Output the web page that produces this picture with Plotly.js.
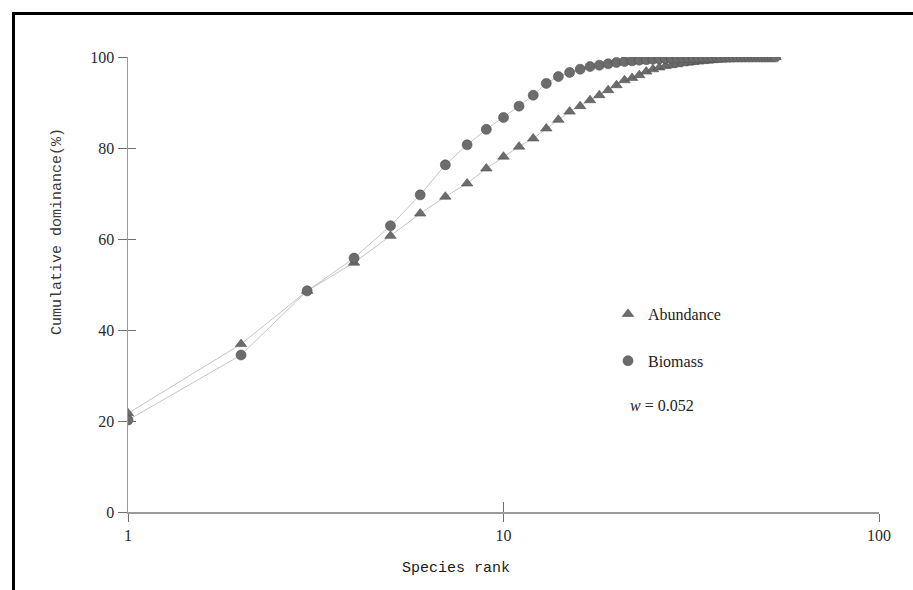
<!DOCTYPE html>
<html>
<head>
<meta charset="utf-8">
<script src="https://cdn.plot.ly/plotly-3.0.1.min.js"></script>
<style>html,body{margin:0;padding:0;background:#fff;}#chart{width:913px;height:590px;}</style>
</head>
<body>
<div id="chart"></div>
<script>
// Species rank (1..53)
const ranks = [1,2,3,4,5,6,7,8,9,10,11,12,13,14,15,16,17,18,19,20,21,22,23,24,25,26,27,28,29,30,31,32,33,34,35,36,37,38,39,40,41,42,43,44,45,46,47,48,49,50,51,52,53];
// Cumulative dominance (%) - abundance
const abundance = [21.7,36.9,48.6,54.8,60.7,65.6,69.3,72.2,75.5,78.1,80.3,82.1,84.3,86.2,88.0,89.2,90.5,91.6,92.7,93.8,94.9,95.4,96.0,96.8,97.3,97.7,98.0,98.2,98.4,98.6,98.75,98.9,99.0,99.1,99.2,99.3,99.4,99.45,99.5,99.55,99.6,99.65,99.7,99.75,99.8,99.84,99.88,99.91,99.94,99.96,99.98,99.99,100];
// Cumulative dominance (%) - biomass
const biomass = [20.2,34.5,48.6,55.8,62.9,69.7,76.3,80.7,84.1,86.7,89.2,91.6,94.2,95.7,96.6,97.3,97.9,98.2,98.5,98.8,99.0,99.15,99.3,99.4,99.5,99.58,99.65,99.7,99.75,99.8,99.83,99.86,99.88,99.9,99.92,99.93,99.94,99.95,99.96,99.97,99.97,99.98,99.98,99.99,99.99,99.99,100,100,100,100,100,100,100];
const xTicks = [1,10,100];
const yTicks = [0,20,40,60,80,100];
const seriesNames = ['Abundance','Biomass'];
const wText = '<i>w</i> = 0.052';

const W = 913, H = 590;
const L = 128, R = 34, T = 57, B = 78;
const pw = W - L - R, ph = H - T - B;
const px = v => (v - L) / pw;          // pixel -> paper x
const py = v => (H - B - v) / ph;      // pixel -> paper y

const markerFill = '#6c6c6c';
const markerLine = '#505050';
const lineCol = '#c4c4c4';

const traces = [
  {x: ranks, y: abundance, mode: 'lines', line: {color: lineCol, width: 1}, showlegend: false, hoverinfo: 'skip'},
  {x: ranks, y: biomass, mode: 'lines', line: {color: lineCol, width: 1}, showlegend: false, hoverinfo: 'skip'},
  {x: ranks, y: abundance, mode: 'markers', name: seriesNames[0], legendgroup: 'a', xaxis: 'x2', yaxis: 'y2',
   marker: {symbol: 'triangle-up', size: 10, color: markerFill, line: {color: markerLine, width: 0.6}}},
  {x: ranks, y: biomass, mode: 'markers', name: seriesNames[1], legendgroup: 'b', xaxis: 'x2', yaxis: 'y2',
   marker: {symbol: 'circle', size: 10, color: markerFill, line: {color: markerLine, width: 0.6}}}
];

const tickFont = {family: 'Liberation Serif, Times New Roman, serif', size: 16, color: '#2a2a2a'};
const axisCol = '#9a9a9a';
const tickCol = '#707070';

const layout = {
  width: W, height: H,
  margin: {l: L, r: R, t: T, b: B, pad: 0},
  paper_bgcolor: '#ffffff', plot_bgcolor: '#ffffff',
  showlegend: true,
  legend: {x: px(608), y: py(297), xanchor: 'left', yanchor: 'top', bgcolor: 'rgba(0,0,0,0)',
           font: {family: 'Liberation Serif, Times New Roman, serif', size: 16, color: '#222'},
           tracegroupgap: 23, itemsizing: 'trace'},
  xaxis: {type: 'log', range: [0, 2], tickvals: xTicks, ticktext: xTicks.map(String),
          ticks: 'outside', ticklen: 8, tickwidth: 1, tickcolor: tickCol,
          showline: true, linecolor: axisCol, linewidth: 1.5, showgrid: false, zeroline: false,
          tickfont: tickFont, fixedrange: true},
  yaxis: {range: [0, 100], tickvals: yTicks, ticks: 'outside', ticklen: 9, tickwidth: 1, tickcolor: tickCol,
          showline: true, linecolor: axisCol, linewidth: 1.5, showgrid: false, zeroline: false,
          tickfont: tickFont, fixedrange: true},
  xaxis2: {type: 'log', range: [0, 2], overlaying: 'x', anchor: 'y2', side: 'bottom', tickvals: [10, 100],
           ticks: 'inside', ticklen: 10, tickwidth: 1, tickcolor: tickCol, showticklabels: false,
           showline: false, showgrid: false, zeroline: false, fixedrange: true},
  yaxis2: {range: [0, 100], overlaying: 'y', anchor: 'x2', side: 'left', tickvals: [20, 40, 60, 80, 100],
           ticks: 'inside', ticklen: 8, tickwidth: 1, tickcolor: tickCol, showticklabels: false,
           showline: false, showgrid: false, zeroline: false, fixedrange: true},
  annotations: [
    {text: 'Cumulative dominance(%)', xref: 'paper', yref: 'paper', x: px(58), y: py(232),
     textangle: -90, showarrow: false, xanchor: 'center', yanchor: 'middle',
     font: {family: 'Liberation Mono, DejaVu Sans Mono, monospace', size: 15, color: '#3a3a3a'}},
    {text: 'Species rank', xref: 'paper', yref: 'paper', x: px(456), y: py(568),
     showarrow: false, xanchor: 'center', yanchor: 'middle',
     font: {family: 'Liberation Mono, DejaVu Sans Mono, monospace', size: 15, color: '#1a1a1a'}},
    {text: wText, xref: 'paper', yref: 'paper', x: px(628), y: py(405),
     showarrow: false, xanchor: 'left', yanchor: 'middle',
     font: {family: 'Liberation Serif, Times New Roman, serif', size: 16, color: '#222'}}
  ],
  shapes: [
    {type: 'line', xref: 'paper', yref: 'paper', x0: px(13.5), x1: px(13.5), y0: py(12), y1: py(600),
     line: {color: '#000', width: 3}},
    {type: 'line', xref: 'paper', yref: 'paper', x0: px(12), x1: px(915), y0: py(13.5), y1: py(13.5),
     line: {color: '#000', width: 3}}
  ]
};

Plotly.newPlot('chart', traces, layout, {displayModeBar: false, staticPlot: true});
</script>
</body>
</html>
